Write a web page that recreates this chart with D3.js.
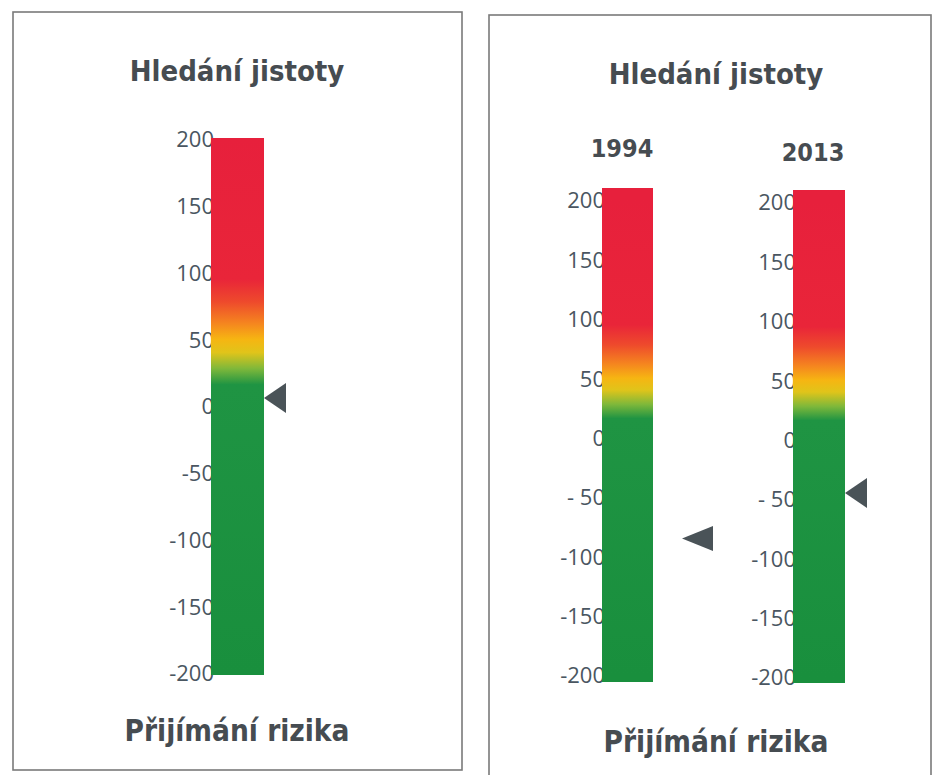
<!DOCTYPE html>
<html><head><meta charset="utf-8">
<script src="https://cdn.jsdelivr.net/npm/d3@7"></script>
<style>
html,body{margin:0;padding:0;background:#fff;}
svg{display:block;}
</style></head>
<body>
<svg id="c" width="933" height="775"></svg>
<script>
// ---- data ----
const panelTitles = ["Hledání jistoty", "Hledání jistoty"];
const panelFooters = ["Přijímání rizika", "Přijímání rizika"];
const gaugeLabels = ["", "1994", "2013"];
const gaugeValues = [6, -85, -45];
const tickValues = [200, 150, 100, 50, 0, -50, -100, -150, -200];
const stopValues = [200, 95, 78, 62, 50, 40, 28, 16, -200];
const stopColors = ["#e7203c", "#e92539", "#ee4a2c", "#f5851f", "#f6b512", "#e0c41a", "#7fb83a", "#1f9443", "#198f3d"];

// ---- layout (positions / styles) ----
const panels = [
  {x: 13, y: 12, w: 449, h: 758, titleX: 237, titleY: 81, footY: 741},
  {x: 489, y: 15, w: 442, h: 790, titleX: 716, titleY: 84, footY: 752}
];
const gauges = [
  {x0: 211, x1: 264, yTop: 139, yBot: 673, padT: 1, padB: 2, gap: 0, mw: 22, mh: 30},
  {x0: 602, x1: 653, yTop: 200, yBot: 675, padT: 12, padB: 7, gap: 29, mw: 31, mh: 25, labY: 157, labX: 622},
  {x0: 793, x1: 845, yTop: 202, yBot: 677, padT: 12, padB: 6, gap: 0, mw: 22, mh: 30, labY: 161, labX: 813}
];
const headFont = "'DejaVu Sans Condensed', 'DejaVu Sans'";

const svg = d3.select("#c");
const defs = svg.append("defs");

panels.forEach((p, i) => {
  svg.append("rect").attr("x", p.x).attr("y", p.y).attr("width", p.w).attr("height", p.h)
    .attr("fill", "none").attr("stroke", "#7a7a7a").attr("stroke-width", 1.6);
  svg.append("text").attr("x", p.titleX).attr("y", p.titleY).attr("text-anchor", "middle")
    .attr("font-family", headFont).attr("font-weight", "bold")
    .attr("font-size", 29).attr("fill", "#464c51").text(panelTitles[i]);
  svg.append("text").attr("x", p.titleX).attr("y", p.footY).attr("text-anchor", "middle")
    .attr("font-family", headFont).attr("font-weight", "bold")
    .attr("font-size", 29.5).attr("fill", "#464c51").text(panelFooters[i]);
});

gauges.forEach((g, i) => {
  const y = d3.scaleLinear().domain([-200, 200]).range([g.yBot, g.yTop]);
  const grp = svg.append("g");

  const axis = d3.axisLeft(y).tickValues(tickValues).tickSize(0).tickPadding(0)
    .tickFormat(d => (i > 0 && d === -50) ? "- 50" : String(d));
  const ax = grp.append("g").attr("transform", `translate(${g.x0 + 3},0)`).call(axis);
  ax.select(".domain").remove();
  ax.attr("font-size", null).attr("font-family", null);
  ax.selectAll("text").style("font-family", "'Open Sans', sans-serif").style("font-size", "22px")
    .attr("fill", "#4a5661").attr("dy", "0.36em");

  const gid = "grad" + i;
  const lg = defs.append("linearGradient").attr("id", gid)
    .attr("gradientUnits", "userSpaceOnUse")
    .attr("x1", 0).attr("x2", 0).attr("y1", y(200)).attr("y2", y(-200));
  stopValues.forEach((v, k) => {
    lg.append("stop").attr("offset", (200 - v) / 400).attr("stop-color", stopColors[k]);
  });
  const top = y(200) - g.padT, bot = y(-200) + g.padB;
  grp.append("rect").attr("x", g.x0).attr("y", top).attr("width", g.x1 - g.x0)
    .attr("height", bot - top).attr("fill", `url(#${gid})`);

  const my = y(gaugeValues[i]);
  const mx = g.x1 + g.gap;
  grp.append("path")
    .attr("d", `M${mx},${my} L${mx + g.mw},${my - g.mh / 2} L${mx + g.mw},${my + g.mh / 2} Z`)
    .attr("fill", "#4a5358");

  if (gaugeLabels[i]) {
    grp.append("text").attr("x", g.labX).attr("y", g.labY).attr("text-anchor", "middle")
      .attr("font-family", headFont).attr("font-weight", "bold")
      .attr("font-size", 25).attr("fill", "#464c51").text(gaugeLabels[i]);
  }
});
</script>
</body></html>
